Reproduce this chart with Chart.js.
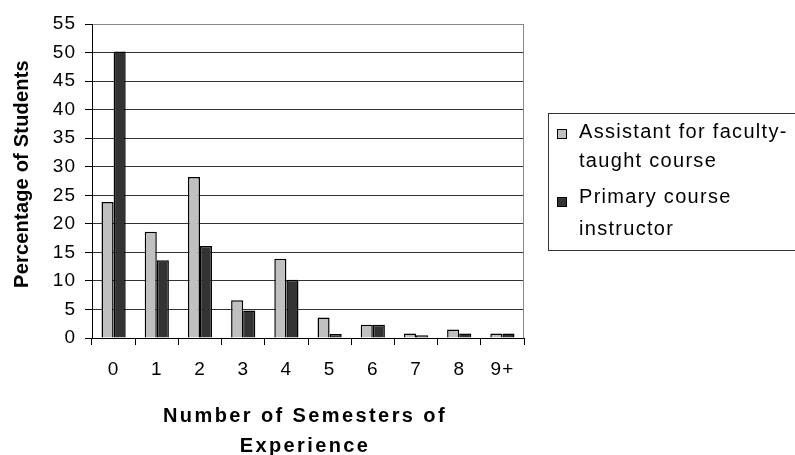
<!DOCTYPE html>
<html>
<head>
<meta charset="utf-8">
<script src="https://cdn.jsdelivr.net/npm/chart.js@4.4.1/dist/chart.umd.min.js"></script>
<style>
  html, body { margin: 0; padding: 0; background: #fff; }
  #wrap { width: 795px; height: 455px; }
</style>
</head>
<body>
<div id="wrap"><canvas id="myChart" width="795" height="455"></canvas></div>
<script>
// Data
const semesters = ['0', '1', '2', '3', '4', '5', '6', '7', '8', '9+'];
const assistantPct = [23.8, 18.6, 28.2, 6.6, 13.9, 3.6, 2.3, 0.8, 1.5, 0.8];
const instructorPct = [50.2, 13.6, 16.1, 4.8, 10.2, 0.7, 2.3, 0.5, 0.8, 0.8];
const seriesLabels = ['Assistant for faculty-taught course', 'Primary course instructor'];
const legendLines = [['Assistant for faculty-', 'taught course'], ['Primary course', 'instructor']];
const xTitleLines = ['Number of Semesters of', 'Experience'];
const yTitle = 'Percentage of Students';

const FONT = '"Liberation Sans", Arial, sans-serif';
const lightGrey = '#c0c0c0';
const darkGrey = '#333333';

// border, titles and the wrapped legend
const decorations = {
    id: 'decorations',
    beforeDraw(chart) {
        // slightly wider tick text, like the original
        chart.ctx.letterSpacing = '1px';
    },
    beforeDatasetsDraw(chart) {
        const { ctx, chartArea } = chart;
        ctx.save();
        ctx.strokeStyle = '#888';
        ctx.lineWidth = 1;
        ctx.beginPath();
        ctx.moveTo(chartArea.right - 0.5, chartArea.top);
        ctx.lineTo(chartArea.right - 0.5, chartArea.bottom);
        ctx.stroke();
        ctx.restore();
    },
    afterDraw(chart) {
        const { ctx } = chart;
        ctx.save();
        ctx.fillStyle = '#000';

        // x title
        ctx.font = 'bold 20px ' + FONT;
        ctx.letterSpacing = '2.4px';
        ctx.textAlign = 'center';
        ctx.textBaseline = 'alphabetic';
        ctx.fillText(xTitleLines[0], 305, 422);
        ctx.fillText(xTitleLines[1], 305, 452);

        // y title
        ctx.letterSpacing = '0.2px';
        ctx.translate(28, 174);
        ctx.rotate(-Math.PI / 2);
        ctx.fillText(yTitle, 0, 0);
        ctx.setTransform(1, 0, 0, 1, 0, 0);

        // legend
        ctx.strokeStyle = '#333';
        ctx.lineWidth = 1;
        ctx.strokeRect(548.5, 113.5, 260, 137);
        const colors = [lightGrey, darkGrey];
        const squareY = [129, 197];
        const baselines = [[138, 167], [203, 235]];
        ctx.font = '20px ' + FONT;
        ctx.letterSpacing = '1.3px';
        ctx.textAlign = 'left';
        legendLines.forEach((lines, i) => {
            ctx.fillStyle = colors[i];
            ctx.fillRect(557, squareY[i], 10, 10);
            ctx.strokeStyle = '#000';
            ctx.strokeRect(557.5, squareY[i] + 0.5, 9, 9);
            ctx.fillStyle = '#000';
            lines.forEach((t, j) => ctx.fillText(t, 579, baselines[i][j]));
        });
        ctx.restore();
    }
};

const ctx = document.getElementById('myChart').getContext('2d');
new Chart(ctx, {
    type: 'bar',
    data: {
        labels: semesters,
        datasets: [{
            label: seriesLabels[0],
            data: assistantPct,
            backgroundColor: lightGrey,
            borderColor: '#000',
            borderWidth: 1.5,
            categoryPercentage: 0.56,
            barPercentage: 1
        }, {
            label: seriesLabels[1],
            data: instructorPct,
            backgroundColor: darkGrey,
            borderColor: '#000',
            borderWidth: 1.5,
            categoryPercentage: 0.56,
            barPercentage: 1
        }]
    },
    options: {
        responsive: false,
        animation: false,
        devicePixelRatio: 1,
        layout: { padding: { top: 24, right: 271, left: 0, bottom: 0 } },
        plugins: {
            legend: { display: false },
            tooltip: { enabled: false }
        },
        scales: {
            x: {
                afterFit: (scale) => { scale.height = 117; },
                grid: {
                    display: true,
                    drawOnChartArea: false,
                    offset: true,
                    tickLength: 7,
                    tickColor: '#000'
                },
                border: { display: true, color: '#000', width: 1 },
                ticks: {
                    color: '#000',
                    padding: 13,
                    font: { family: FONT, size: 19 }
                }
            },
            y: {
                min: 0,
                max: 55,
                afterFit: (scale) => { scale.width = 92; },
                grid: {
                    color: (c) => c.tick && c.tick.value === 55 ? '#888' : '#333',
                    lineWidth: 1,
                    tickLength: 7,
                    tickColor: '#000'
                },
                border: { display: true, color: '#000', width: 1 },
                ticks: {
                    stepSize: 5,
                    color: '#000',
                    padding: 9,
                    font: { family: FONT, size: 19 }
                }
            }
        }
    },
    plugins: [decorations]
});
</script>
</body>
</html>
